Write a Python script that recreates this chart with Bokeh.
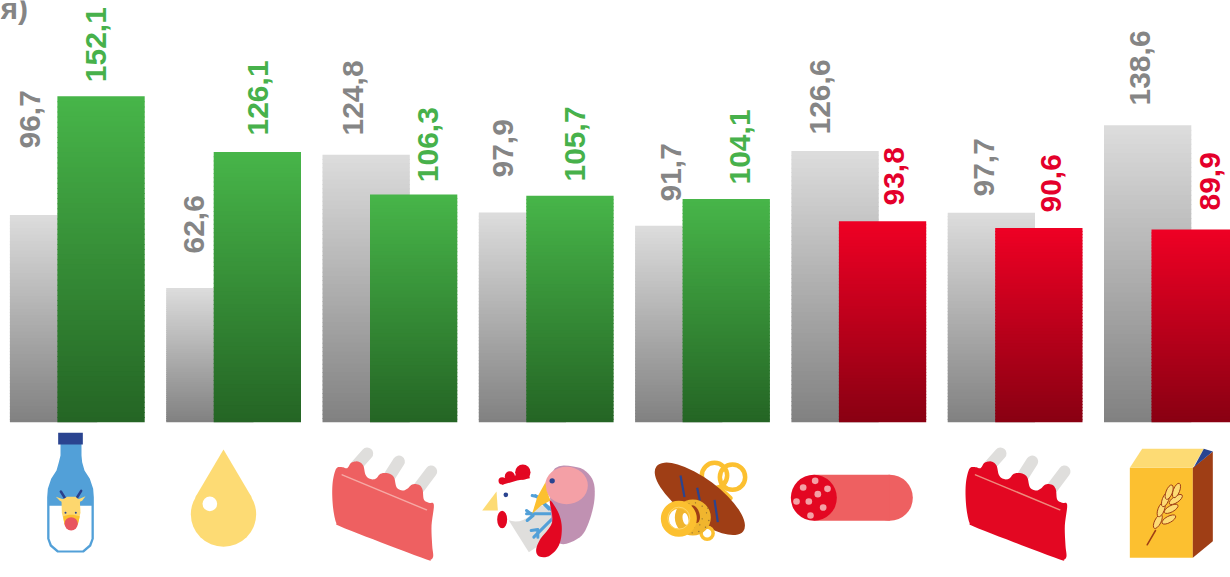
import math
import numpy as np
from bokeh.models import Range1d
from bokeh.plotting import figure
from bokeh.embed import file_html
from bokeh.resources import INLINE
from bokeh.core.properties import value

# ---------- data ----------
previous_values = [96.7, 62.6, 124.8, 97.9, 91.7, 126.6, 97.7, 138.6]
current_values = [152.1, 126.1, 106.3, 105.7, 104.1, 93.8, 90.6, 89.9]
clipped_title = "я)"

# ---------- layout (pixel positions of labels) ----------
LABEL_NUDGE = -12.3
grey_label_x = [41.5, 205.6, 364.5, 515, 683, 831.4, 995.5, 1151.7]
grey_label_y = [148, 253, 135, 177, 201, 134, 196, 105]
cur_label_x = [107.6, 269.6, 439.7, 587, 751.6, 905.8, 1062.7, 1222]
cur_label_y = [81.7, 135, 181.7, 181, 184, 205, 212, 210]

W, H = 1230, 577
STEP, X0 = 156.3, 76.8
PXV, BASE = 2.143, 421.7
BAR_W = 87.3 / STEP
OFF = 47.5 / STEP / 2

p = figure(width=W, height=H, output_backend="svg", toolbar_location=None,
           x_range=Range1d(-X0 / STEP, (W - X0) / STEP),
           y_range=Range1d(-(H - BASE) / PXV, BASE / PXV),
           min_border=0, outline_line_color=None, background_fill_color="white",
           x_axis_type=None, y_axis_type=None)
p.grid.visible = False
p.extra_x_ranges["px"] = Range1d(0, W)
p.extra_y_ranges["px"] = Range1d(H, 0)
PX = dict(x_range_name="px", y_range_name="px")


def lerp(a, b, t):
    return "#%02x%02x%02x" % tuple(int(round(a[k] + (b[k] - a[k]) * t)) for k in range(3))


def gradient_bars(values, centers, top_rgb, bottom_rgb, levels=64):
    left, right, top, bottom, fill = [], [], [], [], []
    for c, v in zip(centers, values):
        for k in range(levels):
            t = k / levels
            left.append(c - BAR_W / 2)
            right.append(c + BAR_W / 2)
            top.append(v * (1 - t))
            bottom.append(max(0, v * (1 - (k + 1) / levels) - 0.45))
            fill.append(lerp(top_rgb, bottom_rgb, t))
    p.quad(left=left, right=right, top=top, bottom=bottom, fill_color=fill, line_color=None)


idx = np.arange(len(previous_values))
grey_rgb = ((220, 220, 220), (128, 128, 128))
green_rgb = ((71, 181, 73), (36, 100, 36))
red_rgb = ((238, 0, 36), (136, 0, 18))
gradient_bars(previous_values, idx - OFF, *grey_rgb)
gradient_bars(current_values[:5], idx[:5] + OFF, *green_rgb)
gradient_bars(current_values[5:], idx[5:] + OFF, *red_rgb)


def fmt(v):
    return f"{v:.1f}".replace(".", ",")


FS = "30px"
p.text(x=[x + LABEL_NUDGE for x in grey_label_x], y=grey_label_y, text=[fmt(v) for v in previous_values],
       angle=math.pi / 2, text_font=value("Liberation Sans"), text_font_style="bold", text_font_size=FS,
       text_color="#858585", text_align="left", text_baseline="alphabetic", **PX)
cur_cols = ["#47b14b"] * 5 + ["#e4002b"] * 3
p.text(x=[x + LABEL_NUDGE for x in cur_label_x], y=cur_label_y, text=[fmt(v) for v in current_values],
       angle=math.pi / 2, text_font=value("Liberation Sans"), text_font_style="bold", text_font_size=FS,
       text_color=cur_cols, text_align="left", text_baseline="alphabetic", **PX)
p.text(x=[27.5], y=[8], text=[clipped_title], text_font=value("Liberation Sans"), text_font_style="bold",
       text_font_size=FS, text_color="#858585", text_align="right", text_baseline="alphabetic", **PX)

# ---------- pictograms (decoration, traced in pixel space) ----------
YEL, ORG, BRN, BLU, NAVY = "#fddb74", "#fcc030", "#9f3e15", "#52a0d8", "#2a4490"
RED, PINK, LGREY = "#e30722", "#ee6061", "#dfdedc"


def catmull(pts, n=6):
    out = []
    m = len(pts)
    for i in range(m):
        p0, p1, p2, p3 = pts[i - 1], pts[i], pts[(i + 1) % m], pts[(i + 2) % m]
        for k in range(n):
            t = k / n
            out.append(tuple(
                0.5 * (2 * p1[d] + (p2[d] - p0[d]) * t + (2 * p0[d] - 5 * p1[d] + 4 * p2[d] - p3[d]) * t ** 2
                       + (3 * p1[d] - p0[d] - 3 * p2[d] + p3[d]) * t ** 3) for d in (0, 1)))
    return out


class Icon:
    def __init__(self, ox, oy):
        self.ox, self.oy = ox, oy

    def xy(self, pts):
        return [self.ox + a / 3 for a, b in pts], [self.oy + b / 3 for a, b in pts]

    def poly(self, pts, color, smooth=False):
        if smooth:
            pts = catmull(pts)
        xs, ys = self.xy(pts)
        p.patch(xs, ys, fill_color=color, line_color=None, **PX)

    def line(self, pts, color, w, cap="round"):
        xs, ys = self.xy(pts)
        p.line(xs, ys, line_color=color, line_width=w, line_cap=cap, line_join="round", **PX)

    def circ(self, x, y, r, color):
        p.circle(x=[self.ox + x / 3], y=[self.oy + y / 3], radius=r / 3, fill_color=color, line_color=None, **PX)

    def ring(self, x, y, r, color, w):
        p.circle(x=[self.ox + x / 3], y=[self.oy + y / 3], radius=r / 3, fill_color=None,
                 line_color=color, line_width=w, **PX)

    def ell(self, x, y, w, h, angle, color, line=None, lw=1):
        p.ellipse(x=[self.ox + x / 3], y=[self.oy + y / 3], width=w / 3, height=h / 3, angle=angle,
                  fill_color=color, line_color=line, line_width=lw, **PX)


# milk bottle
a = Icon(0, 425)
a.poly([(180, 50), (243, 50), (243, 90), (245, 110), (252, 135), (268, 160), (278, 190), (280, 215), (280, 340),
        (272, 362), (250, 381), (170, 381), (148, 362), (140, 340), (140, 215), (142, 190), (152, 160), (168, 135),
        (175, 110), (180, 90)], BLU)
a.poly([(147, 241), (273, 241), (273, 340), (266, 358), (246, 375), (174, 375), (154, 358), (147, 340)], "white")
a.poly([(173, 22), (247, 22), (247, 57), (173, 57)], NAVY)
a.line([(196, 222), (181, 198)], "#2a3f8c", 2.5)
a.line([(226, 222), (242, 196)], "#2a3f8c", 2.5)
a.poly([(166, 214), (190, 222), (190, 232), (178, 226)], YEL)
a.poly([(255, 212), (232, 222), (232, 232), (245, 226)], YEL)
a.poly([(183, 224), (200, 214), (225, 214), (238, 224), (240, 262), (232, 295), (192, 295), (184, 262)], "#fdd76e")
a.poly([(188, 272), (205, 268), (218, 268), (238, 272), (232, 298), (192, 298)], ORG)
a.circ(212, 295, 20, "#e8565f")
a.circ(195, 262, 3, NAVY)
a.circ(226, 262, 3, NAVY)

# oil drop
a = Icon(0, 425)
a.circ(669, 266, 98, YEL)
a.poly([(669, 72), (754, 216), (584, 216)], YEL)
a.circ(628, 235, 22, "white")


def ribs(ox, body, stripe):
    r = Icon(ox, 425)
    r.line([(628, 120), (660, 84)], LGREY, 12)
    r.line([(725, 155), (755, 108)], LGREY, 12)
    r.line([(815, 187), (852, 138)], LGREY, 12)
    r.poly([(568, 128), (585, 125), (600, 128), (612, 112), (632, 108), (648, 120), (655, 148), (668, 160), (685, 160),
            (700, 145), (722, 143), (740, 155), (748, 185), (765, 195), (780, 190), (795, 177), (815, 178), (826, 192),
            (830, 222), (845, 232), (860, 238), (853, 300), (855, 360), (858, 392), (850, 403), (838, 402), (700, 350),
            (580, 303), (567, 292), (558, 250), (555, 200), (558, 160)], body, smooth=True)
    r.line([(585, 148), (838, 253)], stripe, 1.5)


ribs(780 - 633.3, PINK, "#f6a9a5")
ribs(780, RED, "#ee8a7c")

# frozen poultry
a = Icon(420, 425)
a.poly([(265, 285), (325, 380), (400, 330), (400, 240), (340, 240)], LGREY)
a.circ(285, 228, 60, "white")
a.poly([(185, 255), (228, 198), (232, 255)], YEL)
a.circ(307, 140, 23, RED)
a.circ(268, 152, 15, RED)
a.circ(245, 166, 11, RED)
a.poly([(283, 150), (325, 140), (328, 158), (290, 165), (245, 178), (240, 160)], RED)
a.ell(245, 282, 30, 52, 0, RED)
a.circ(256, 208, 7, NAVY)
for seg in ([(318, 265), (395, 265)], [(340, 335), (395, 280)], [(345, 210), (395, 255)],
            [(318, 255), (338, 270), (320, 285)], [(332, 315), (352, 312), (352, 335)],
            [(335, 210), (355, 215), (365, 230)], [(365, 230), (385, 250)]):
    a.line(seg, BLU, 3)
a.poly([(395, 140), (470, 125), (515, 160), (522, 220), (505, 290), (478, 335), (420, 355), (395, 300)],
       "#c091b2", smooth=True)
a.ell(438, 180, 128, 112, 0, "#f4a0a6")
a.poly([(375, 170), (350, 215), (335, 265), (362, 240), (390, 225), (378, 195)], ORG)
a.poly([(388, 225), (415, 265), (424, 310), (415, 360), (385, 392), (355, 392), (347, 372), (360, 340), (395, 290)],
       RED, smooth=True)
a.circ(395, 166, 8, NAVY)

# bakery
a = Icon(420, 425)
a.ring(882, 150, 38, ORG, 4.5)
a.ring(936, 155, 38, ORG, 4.5)
a.line([(900, 190), (930, 218)], ORG, 4.5)
a.ell(838, 220, 325, 122, -math.radians(36.7), BRN)
for seg in ([(780, 150), (792, 215)], [(830, 187), (838, 225)], [(882, 223), (892, 290)]):
    a.line(seg, "#2a4490", 2.2, cap="butt")
a.ring(860, 323, 18, ORG, 3.5)
a.circ(817, 276, 54, "#f0b52e")
for dx, dy in ((785, 240), (805, 235), (825, 232), (845, 242), (858, 262), (865, 285), (855, 305), (835, 318),
               (815, 322), (795, 315), (845, 280), (838, 298), (820, 305), (862, 248)):
    a.circ(dx, dy, 2, "#8a6a30")
a.ell(822, 266, 30, 55, 0.3, BRN)
a.ring(775, 280, 42, ORG, 8)
a.ring(775, 278, 33, "#fdd76e", 1)
a.ell(795, 280, 17, 36, 0.2, "white")

# sausage
a = Icon(780, 425)
a.circ(328, 217, 69, PINK)
a.poly([(100, 148), (328, 148), (328, 286), (100, 286)], PINK)
a.circ(100, 217, 69, RED)
for dx, dy in ((104, 166), (68, 186), (141, 190), (112, 206), (48, 228), (85, 228), (128, 246), (90, 270)):
    a.circ(dx, dy, 10, "#f4a0a6")

# cereal box
a = Icon(780, 425)
a.poly([(1048, 127), (1237, 127), (1237, 397), (1048, 397)], ORG)
a.poly([(1048, 127), (1085, 70), (1270, 70), (1237, 127)], YEL)
a.poly([(1237, 127), (1297, 78), (1297, 347), (1237, 397)], BRN)
a.poly([(1270, 70), (1297, 78), (1240, 125)], NAVY)
a.line([(1100, 358), (1125, 315)], BRN, 1.5)
for gx, gy, ang in ((1132, 288, 1.1), (1165, 282, 0.5), (1142, 252, 1.2), (1172, 250, 0.5), (1155, 222, 1.2),
                    (1186, 222, 0.6), (1166, 200, 1.2), (1188, 195, 1.2)):
    a.ell(gx, gy, 46, 19, ang, YEL, line=BRN, lw=1)

open("out.html", "w").write(file_html(p, INLINE))
